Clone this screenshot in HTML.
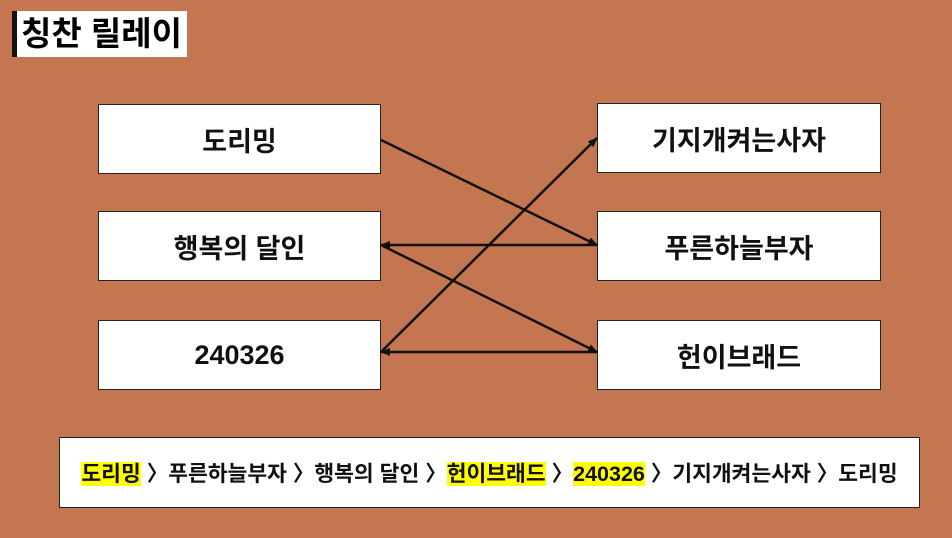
<!DOCTYPE html>
<html><head><meta charset="utf-8"><style>
body{margin:0;width:952px;height:538px;background:#C47650;position:relative;overflow:hidden;font-family:"Liberation Sans","Noto Sans CJK KR",sans-serif;}
.b{position:absolute;background:#fff;border:1.5px solid #222;box-sizing:border-box;display:flex;align-items:center;justify-content:center;font-size:27px;font-weight:bold;color:#111;}
.t{position:absolute;left:12px;top:11px;width:175px;height:46px;background:#fff;border-left:5px solid #111;box-sizing:border-box;font-size:33px;font-weight:bold;line-height:46px;padding-left:4px;}
.hl{background:#ffff00;}
.bot{font-size:21.5px;font-weight:bold;}
</style></head><body>
<div class="t">칭찬 릴레이</div>
<div class="b" style="left:98px;top:104px;width:283px;height:70px">도리밍</div>
<div class="b" style="left:98px;top:211px;width:283px;height:70px">행복의 달인</div>
<div class="b" style="left:98px;top:320px;width:283px;height:70px">240326</div>
<div class="b" style="left:597px;top:103px;width:284px;height:70px">기지개켜는사자</div>
<div class="b" style="left:597px;top:211px;width:284px;height:70px">푸른하늘부자</div>
<div class="b" style="left:597px;top:320px;width:284px;height:70px">헌이브래드</div>
<div class="b bot" style="left:59px;top:437px;width:861px;height:71px"><span><span class="hl">도리밍</span> 〉푸른하늘부자 〉행복의 달인 〉<span class="hl">헌이브래드</span> 〉<span class="hl">240326</span> 〉기지개켜는사자 〉도리밍</span></div>
<svg style="position:absolute;left:0;top:0" width="952" height="538">
<defs><marker id="a" markerWidth="10" markerHeight="8" refX="9" refY="4" orient="auto" markerUnits="userSpaceOnUse"><path d="M0,0L10,4L0,8z" fill="#111"/></marker></defs>
<g stroke="#111" stroke-width="2.5" fill="none">
<line x1="381" y1="140" x2="597" y2="245" marker-end="url(#a)"/>
<line x1="597" y1="245" x2="381" y2="245" marker-end="url(#a)"/>
<line x1="381" y1="245" x2="597" y2="352" marker-end="url(#a)"/>
<line x1="381" y1="352" x2="597" y2="138" marker-end="url(#a)"/>
<line x1="597" y1="352" x2="381" y2="352" marker-end="url(#a)"/>
</g></svg>
</body></html>
